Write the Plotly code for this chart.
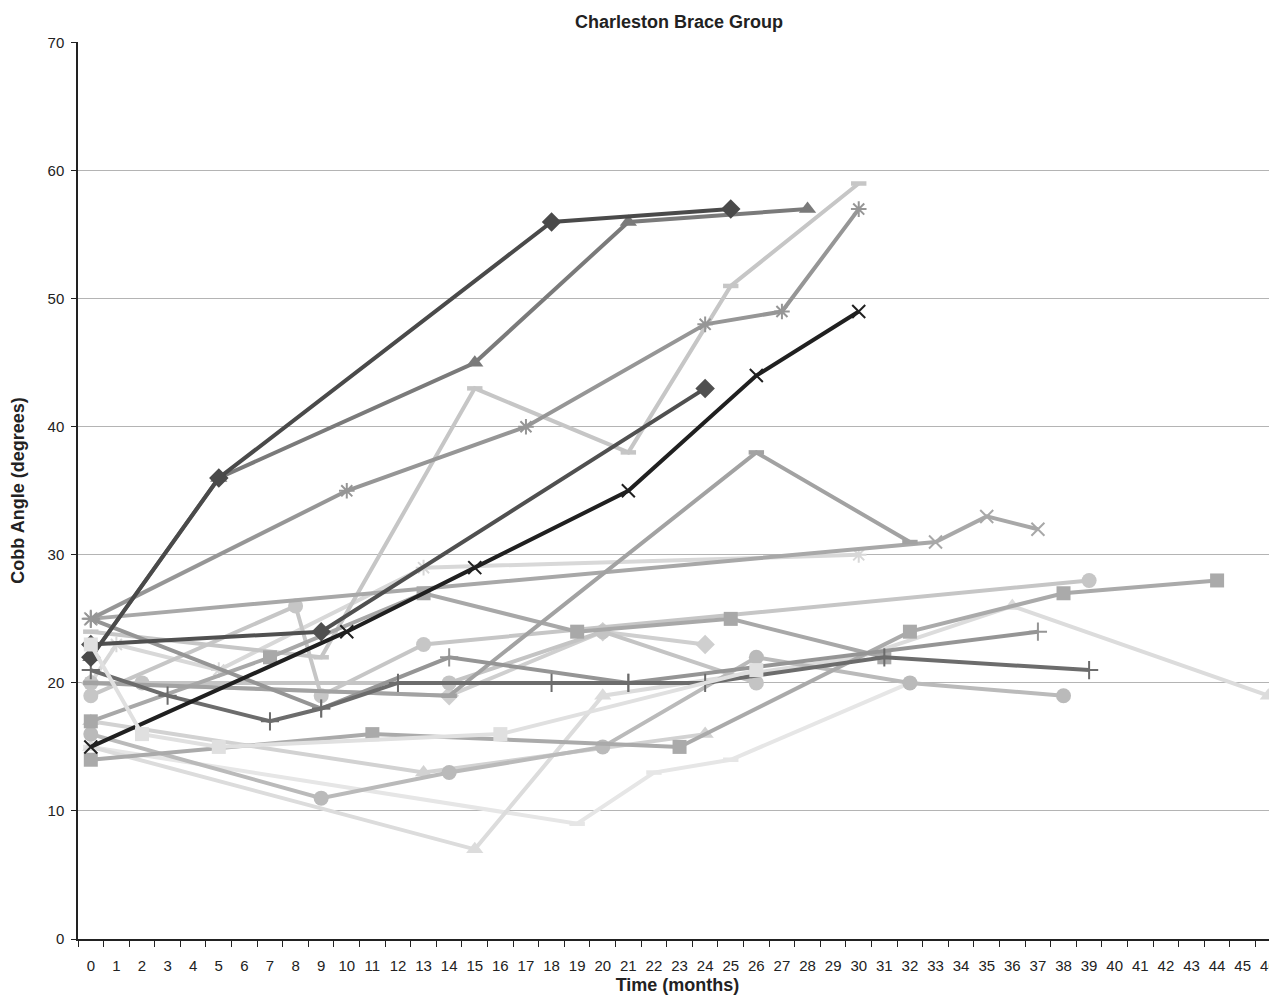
import plotly.graph_objects as go

# ---- data ----
month_ticks = list(range(47))
month_labels = [str(i) for i in month_ticks]
y_tick_values = [0, 10, 20, 30, 40, 50, 60, 70]

t_d1 = [0, 5, 18, 25];              v_d1 = [22, 36, 56, 57]
t_t1 = [0, 5, 15, 21, 28];          v_t1 = [22, 36, 45, 56, 57]
t_a1 = [0, 10, 17, 24, 27, 30];     v_a1 = [25, 35, 40, 48, 49, 57]
t_ds2 = [0, 9, 15, 21, 25, 30];     v_ds2 = [24, 22, 43, 38, 51, 59]
t_d2 = [0, 9, 24];                  v_d2 = [23, 24, 43]
t_x1 = [0, 10, 15, 21, 26, 30];     v_x1 = [15, 24, 29, 35, 44, 49]
t_ds1 = [0, 14, 26, 32];            v_ds1 = [20, 19, 38, 31]
t_x2 = [0, 33, 35, 37];             v_x2 = [25, 31, 33, 32]
t_a2 = [0, 1, 5, 13, 30];           v_a2 = [20, 23, 21, 29, 30]
t_c2 = [0, 8, 9, 13, 39];           v_c2 = [19, 26, 19, 23, 28]
t_s1 = [0, 11, 23, 32, 38, 44];     v_s1 = [14, 16, 15, 24, 27, 28]
t_s2 = [0, 7, 13, 19, 25, 31];      v_s2 = [17, 22, 27, 24, 25, 22]
t_s3 = [0, 2, 5, 16, 26];           v_s3 = [23, 16, 15, 16, 21]
t_p1 = [0, 3, 7, 9, 12, 18, 21, 24, 31, 39]
v_p1 = [21, 19, 17, 18, 20, 20, 20, 20, 22, 21]
t_p2 = [0, 9, 14, 21, 37];          v_p2 = [25, 18, 22, 20, 24]
t_c1 = [0, 9, 14, 20, 26, 32, 38];  v_c1 = [16, 11, 13, 15, 22, 20, 19]
t_c3 = [0, 2, 14, 20, 26];          v_c3 = [20, 20, 20, 24, 20]
t_d3 = [0, 14, 20, 24];             v_d3 = [20, 19, 24, 23]
t_t2 = [0, 13, 24];                 v_t2 = [17, 13, 16]
t_t3 = [0, 15, 20, 30, 36, 46];     v_t3 = [15, 7, 19, 22, 26, 19]
t_ds3 = [0, 19, 22, 25, 32];        v_ds3 = [15, 9, 13, 14, 20]

# ---- styles (drawing order) ----
series = [
    (t_ds3, v_ds3, "#e6e6e6", "line-ew", 11),
    (t_t3, v_t3, "#dcdcdc", "triangle-up", 15),
    (t_t2, v_t2, "#d2d2d2", "triangle-up", 15),
    (t_a2, v_a2, "#d8d8d8", "asterisk", 13),
    (t_d3, v_d3, "#cfcfcf", "diamond", 15),
    (t_c3, v_c3, "#c4c4c4", "circle", 15),
    (t_c1, v_c1, "#bababa", "circle", 15),
    (t_c2, v_c2, "#c6c6c6", "circle", 15),
    (t_ds2, v_ds2, "#c6c6c6", "line-ew", 11),
    (t_s1, v_s1, "#aaaaaa", "square", 14),
    (t_s2, v_s2, "#a8a8a8", "square", 14),
    (t_x2, v_x2, "#a8a8a8", "x-thin", 13),
    (t_ds1, v_ds1, "#a2a2a2", "line-ew", 11),
    (t_p2, v_p2, "#959595", "cross-thin", 13),
    (t_a1, v_a1, "#969696", "asterisk", 13),
    (t_p1, v_p1, "#6c6c6c", "cross-thin", 13),
    (t_t1, v_t1, "#7a7a7a", "triangle-up", 15),
    (t_d2, v_d2, "#505050", "diamond", 15),
    (t_x1, v_x1, "#202020", "x-thin", 13),
    (t_d1, v_d1, "#4a4a4a", "diamond", 15),
    (t_s3, v_s3, "#e0e0e0", "square", 14),
]

fig = go.Figure()
for t, v, col, sym, size in series:
    open_sym = sym in ("line-ew", "x-thin", "cross-thin", "asterisk")
    fig.add_trace(go.Scatter(
        x=t, y=v, mode="lines+markers",
        line=dict(color=col, width=4),
        marker=dict(symbol=sym, size=size, color=col,
                    line=dict(color=col, width=4.5 if sym == "line-ew" else (2 if open_sym else 0))),
        showlegend=False, hoverinfo="x+y",
    ))

# page has an 8px body margin, so the figure is drawn 8px right/down
W, H = 1269, 987
font_family = "Liberation Sans, Arial, sans-serif"
narrow_family = "Liberation Sans Narrow, Arial Narrow, Liberation Sans, Arial, sans-serif"
fig.update_layout(
    width=W, height=H,
    margin=dict(l=70, r=0, t=34, b=56, autoexpand=False),
    plot_bgcolor="white", paper_bgcolor="white",
    font=dict(family=font_family, size=14, color="#222"),
    title=dict(text="<b>Charleston Brace Group</b>", x=671 / W, xanchor="center",
               y=1 - 14 / H, yanchor="middle", font=dict(size=18, color="#222")),
    xaxis=dict(
        range=[-0.5, 46.34], tickmode="array", tickvals=month_ticks, ticktext=month_labels,
        ticks="", showgrid=False, showline=True, linecolor="#222", linewidth=1.5,
        minor=dict(tickmode="linear", tick0=-0.5, dtick=1, ticks="outside",
                   ticklen=6, tickcolor="#222", showgrid=False),
        tickfont=dict(size=15, family=narrow_family), ticklabelstandoff=12, automargin=False,
        title=dict(text="<b>Time (months)</b>", font=dict(size=18), standoff=19),
        zeroline=False,
    ),
    yaxis=dict(
        range=[0, 70.05], tickvals=y_tick_values,
        ticks="outside", ticklen=5, tickcolor="#222",
        showgrid=True, gridcolor="#b4b4b4", gridwidth=1,
        showline=True, linecolor="#222", linewidth=1.5,
        tickfont=dict(size=15), ticklabelstandoff=4, zeroline=False, automargin=False,
        title=dict(text="<b>Cobb Angle (degrees)</b>", font=dict(size=18), standoff=19),
    ),
)

fig.write_html("out.html")
